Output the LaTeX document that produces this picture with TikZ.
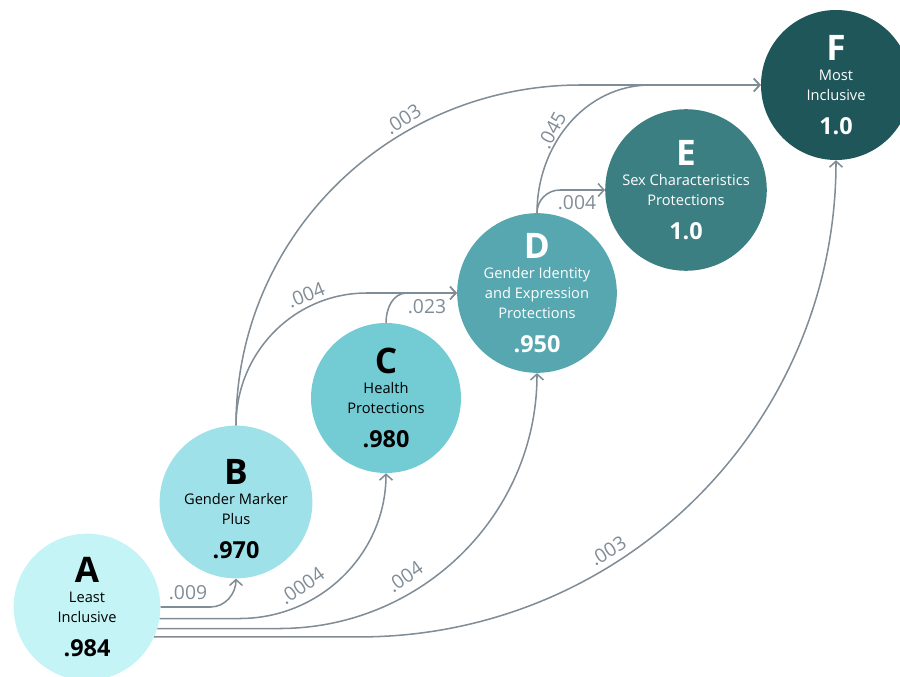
\documentclass[tikz,border=0pt]{standalone}
\usepackage{fontspec}
\setmainfont{Open Sans}
\usetikzlibrary{arrows.meta,calc}

\definecolor{stageA}{HTML}{C5F4F7}
\definecolor{stageB}{HTML}{9FE1E9}
\definecolor{stageC}{HTML}{73CBD4}
\definecolor{stageD}{HTML}{56A7AF}
\definecolor{stageE}{HTML}{3C7F83}
\definecolor{stageF}{HTML}{1F565A}
\definecolor{flowgray}{HTML}{808C96}

\newcommand{\stageletter}[1]{{\fontsize{30}{17}\selectfont\bfseries #1}}
\newcommand{\stagevalue}[1]{{\fontsize{20}{20}\selectfont\bfseries #1}}

\begin{document}
\begin{tikzpicture}[x=0.03cm,y=-0.03cm]

\tikzstyle{stage}=[circle,minimum size=4.5cm,inner sep=0pt,align=center,font=\fontsize{12.5}{17}\selectfont]
\tikzstyle{flow}=[draw=flowgray,line width=1.3pt,-{Straight Barb[length=5pt,width=11pt,line width=1.3pt]}]
\tikzstyle{weight}=[text=flowgray,font=\fontsize{16.5}{17}\selectfont,inner sep=0pt]

\useasboundingbox (0,0) rectangle (900,677);

%stages, least to most inclusive.
\node[stage,fill=stageA,minimum size=4.4cm] (A) at (87,607) {\stageletter{A}\\ Least\\ Inclusive\\[12pt] \stagevalue{.984}};
\node[stage,fill=stageB] (B) at (236,502) {\stageletter{\rule{0pt}{33pt}B}\\ Gender Marker\\ Plus\\[12pt] \stagevalue{.970}};
\node[stage,fill=stageC] (C) at (386,398) {\stageletter{C}\\ Health\\ Protections\\[12pt] \stagevalue{.980}};
\node[stage,fill=stageD,text=white] (D) at (537,293) {\stageletter{D}\\ Gender Identity\\ and Expression\\ Protections\\[12pt] \stagevalue{.950}};
\node[stage,fill=stageE,text=white] (E) at (686,190) {\stageletter{E}\\ Sex Characteristics\\ Protections\\[12pt] \stagevalue{1.0}};
\node[stage,fill=stageF,text=white] (F) at (836,85) {\stageletter{F}\\ Most\\ Inclusive\\[12pt] \stagevalue{1.0}};

%flows out of A.
\draw[flow] (A.east) -- ++(50,0) to[out=0,in=-90] (B.south);
\draw[flow] (A.-9) -- ++(80,0) to[out=0,in=-90] (C.south);
\draw[flow] (A.-17) -- ++(122,0) to[out=0,in=-90] (D.south);
\draw[flow] (A.-24) -- ++(205,0) to[out=0,in=-90] (F.south);

%flows out of B, C and D.
\draw[flow] (B.north) to[out=90,in=180] ($(D.west)+(-90,0)$) -- (D.west);
\draw[flow] (C.north) to[out=90,in=180] ($(D.west)+(-50,0)$) -- (D.west);
\draw[flow] (B.north) to[out=90,in=180] ($(F.west)+(-180,0)$) -- (F.west);
\draw[flow] (D.north) to[out=90,in=180] ($(E.west)+(-45,0)$) -- (E.west);
\draw[flow] (D.north) to[out=90,in=180] ($(F.west)+(-110,0)$) -- (F.west);

%weights.
\node[weight] (wAB) at (188,593) {.009};
\node[weight,rotate=35] (wAC) at (302,586) {.0004};
\node[weight,rotate=35] (wAD) at (405,577) {.004};
\node[weight,rotate=32] (wAF) at (608,551) {.003};
\node[weight,rotate=22] (wBD) at (306,295) {.004};
\node[weight] (wCD) at (427,307) {.023};
\node[weight,rotate=33] (wBF) at (403,119) {.003};
\node[weight,rotate=62] (wDF) at (552,130) {.045};
\node[weight] (wDE) at (577,203) {.004};

\end{tikzpicture}
\end{document}
